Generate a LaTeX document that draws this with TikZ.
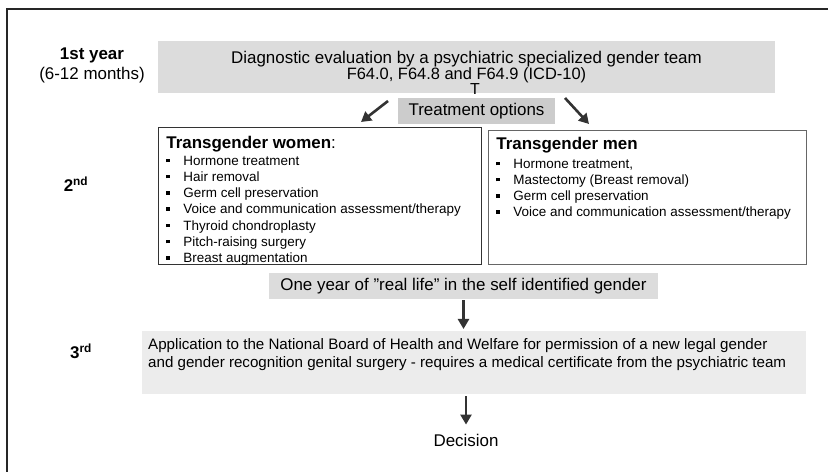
\documentclass[tikz,border=0pt]{standalone}
\usepackage{fontspec}
\setmainfont{Liberation Sans}
\usetikzlibrary{arrows.meta,positioning}

\definecolor{evalgray}{RGB}{220,220,220}
\definecolor{optgray}{RGB}{204,204,204}
\definecolor{appgray}{RGB}{236,236,236}
\definecolor{arrowgray}{RGB}{51,51,51}

% bullet item for the lists
\newcommand{\blt}[1]{\par\rule[3bp]{3.6bp}{3.6bp}\hspace{13.4bp}#1}

\begin{document}
\begin{tikzpicture}[
    x=1bp, y=-1bp,
    % Estilos de cajas
    gray box/.style={fill=#1, draw=none, inner sep=0pt},
    list box/.style={draw=#1, line width=0.9bp, fill=white, anchor=north west, inner xsep=8bp, inner ysep=8.5bp},
    big text/.style={font=\fontsize{17}{20}\selectfont},
    year label/.style={big text, align=center, inner sep=0pt},
    % Estilos de flechas
    flow arrow/.style={draw=arrowgray, line width=2.6bp, -{Triangle[length=10bp, width=11bp]}},
    frame line/.style={draw=black!85, line width=2bp}
]
\useasboundingbox (0,0) rectangle (828,472);

% marco
\draw[frame line] (7,472) -- (7,9) -- (828,9);

% etiquetas de los años
\node[year label] (year1) at (92,65) {\textbf{1st year}\\(6-12 months)};
\node[year label] (year2) at (76,184) {\textbf{2\textsuperscript{nd}}};
\node[year label] (year3) at (81,351) {\textbf{3\textsuperscript{rd}}};

% 1. Evaluacion diagnostica
\node[gray box=evalgray, minimum width=617bp, minimum height=52bp, align=center] (diag) at (466.5,67)
    {\fontsize{17}{20}\selectfont Diagnostic evaluation by a psychiatric specialized gender team\\
     \fontsize{16.5}{20}\selectfont F64.0, F64.8 and F64.9 (ICD-10)};
\node[font=\fontsize{16}{18}\selectfont, inner sep=0pt] (tee) at (475,89) {T};

\node[gray box=optgray, big text, minimum width=157bp, minimum height=26bp] (opts) at (476.5,111) {Treatment options};

% 2. Opciones de tratamiento
\node[list box=black!80] (women) at (158,127) {\parbox[c][120bp][t]{307bp}{%
    \fontsize{13.5}{16.3}\selectfont
    {\fontsize{17}{17}\selectfont\textbf{Transgender women}:}\par\vspace{0.7bp}%
    \noindent\blt{Hormone treatment}
    \blt{Hair removal}
    \blt{Germ cell preservation}
    \blt{Voice and communication assessment/therapy}
    \blt{Thyroid chondroplasty}
    \blt{Pitch-raising surgery}
    \blt{Breast augmentation}}};

\node[list box=black!60, inner ysep=6.6bp] (men) at (488,130) {\parbox[c][121bp][t]{302bp}{%
    \fontsize{13.5}{16.3}\selectfont
    {\fontsize{17}{17}\selectfont\textbf{Transgender men}}\par\vspace{2.7bp}%
    \blt{Hormone treatment,}
    \blt{Mastectomy (Breast removal)}
    \blt{Germ cell preservation}
    \blt{Voice and communication assessment/therapy}}};

\coordinate (wtail) at (388,101);
\coordinate (whead) at (361,122);
\coordinate (mtail) at (565,98);
\coordinate (mhead) at (589,124);
\draw[flow arrow] (wtail) -- (whead);
\draw[flow arrow] (mtail) -- (mhead);

% 3. Vida real y solicitud
\node[gray box=evalgray, big text, minimum width=389bp, minimum height=26bp] (life) at (463.5,286)
    {One year of ''real life'' in the self identified gender};

\node[gray box=appgray, anchor=north west, inner xsep=6bp, inner ysep=7.5bp] (app) at (142,331) {\parbox[c][48bp][t]{652bp}{%
    \fontsize{15.2}{18}\selectfont
    Application to the National Board of Health and Welfare for permission of a new legal gender\par
    and gender recognition genital surgery - requires a medical certificate from the psychiatric team}};

\node[big text, inner sep=0pt] (decision) at (466,440) {Decision};

\draw[flow arrow, shorten <=1bp, shorten >=2bp] (life.south) -- (life.south |- app.north);
\draw[flow arrow, shorten <=2bp, shorten >=9bp] (app.south -| decision.north) -- (decision.north);

\end{tikzpicture}
\end{document}
